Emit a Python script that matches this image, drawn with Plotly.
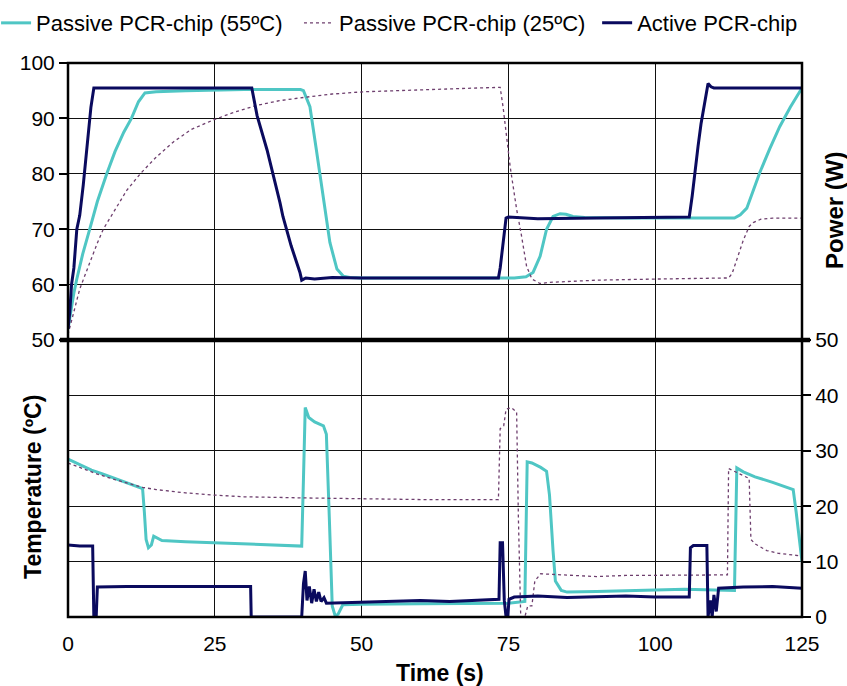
import plotly.graph_objects as go

# ---------------- data ----------------
# Temperature (top panel, left axis, ºC)
t_p55_T = [0, 0.5, 1.0, 1.5, 2.5, 3.7, 5, 6.6, 8, 9.5, 10.8, 12, 13.1, 15, 20, 30, 39.6, 40.1, 41.2, 42.3, 43.5, 44.6, 45.8, 46.9, 48, 50, 60, 70, 76, 78, 79.2, 80.4, 81.5, 82.6, 83.8, 84.8, 86, 88, 95, 105, 113.5, 114.5, 115.6, 116.7, 117.8, 119.5, 121.2, 123, 125]
v_p55_T = [52, 55.5, 58.5, 61, 65.5, 70, 75, 80, 84, 87.5, 90, 93, 94.6, 94.8, 95.0, 95.2, 95.2, 95.0, 92.1, 84.3, 75.4, 67.6, 62.8, 61.5, 61.3, 61.2, 61.2, 61.2, 61.2, 61.4, 62.2, 65.1, 70, 72.3, 72.8, 72.7, 72.3, 72.1, 72.0, 72.0, 72.0, 72.6, 73.8, 77, 80.2, 84.5, 88.5, 92, 95.5]

t_p25_T = [0, 1, 2, 3, 3.7, 5, 6, 8, 10, 12.3, 15, 18, 21, 24.7, 28, 32, 36, 39.5, 45, 50.3, 60, 70, 73.6, 74.1, 75.3, 76.4, 77.2, 78.1, 79, 80.4, 82, 90, 100, 108, 112.5, 113.1, 114, 115, 116, 116.7, 118, 120, 125]
v_p25_T = [51, 55, 59.2, 62, 64, 67.5, 70, 73.5, 77, 80, 83, 85.8, 88, 89.7, 91, 92.3, 93.2, 93.7, 94.4, 94.8, 95.2, 95.5, 95.6, 92, 81.3, 73.6, 69, 63.3, 61, 60.2, 60.4, 60.8, 61, 61.1, 61.2, 62, 65, 68, 70.5, 71.2, 71.8, 72, 72]

t_act_T = [0, 0.3, 0.6, 1.0, 1.5, 2.0, 2.6, 3.0, 3.4, 3.9, 4.4, 5, 10, 20, 31.3, 32.2, 33.9, 36.1, 36.6, 38, 39.5, 39.8, 40.5, 42, 45, 50, 60, 70, 73.3, 73.6, 74.2, 74.6, 75, 80, 90, 100, 105.8, 106.3, 106.8, 107.3, 107.8, 108.3, 108.7, 109.0, 109.5, 110, 115, 120, 125]
v_act_T = [52, 55, 60, 63, 70, 72.5, 78, 82, 87, 92, 95.5, 95.5, 95.5, 95.5, 95.5, 90.5, 84.3, 74.8, 72.3, 67, 62.2, 60.8, 61.2, 61.0, 61.3, 61.2, 61.2, 61.3, 61.2, 63, 69, 72, 72.2, 71.9, 72.0, 72.1, 72.2, 76, 81, 85, 89, 92, 95, 96.3, 95.7, 95.5, 95.5, 95.5, 95.5]

# Power (bottom panel, right axis, W)
t_p55_P = [0, 2, 4, 6, 8, 10, 12.7, 13.0, 13.3, 13.7, 14.2, 14.6, 15.2, 16, 20, 25, 30, 35, 39.8, 40.1, 40.4, 41, 42, 43.5, 44, 44.5, 45, 45.5, 46, 46.8, 50, 60, 70, 75, 77.8, 78.2, 79, 80.5, 81.5, 82, 82.6, 83, 84, 85, 90, 100, 105, 113.5, 113.9, 115, 117, 120, 123.5, 124, 124.5, 125]
v_p55_P = [28.5, 27.5, 26.5, 25.8, 25, 24.2, 23.2, 19, 14, 12.5, 13, 14.6, 14.2, 13.8, 13.6, 13.4, 13.2, 13.0, 12.8, 25, 37.8, 36, 35.2, 34.5, 33, 18, 2, 0.2, 0.5, 2.2, 2.3, 2.4, 2.5, 2.5, 2.8, 28, 27.8, 27, 26.3, 22, 12, 6.5, 4.8, 4.5, 4.6, 4.9, 5, 4.8, 26.9, 26.2, 25.3, 24.3, 23, 19, 14, 10]

t_p25_P = [0, 2, 5, 8, 12.7, 15, 20, 25, 30, 40, 50, 60, 73.3, 73.6, 74.2, 74.6, 75.5, 76.4, 76.7, 77.1, 77.8, 78.3, 79.0, 79.5, 80.5, 85, 90, 95, 100, 105, 112.3, 112.5, 114, 116, 116.3, 117, 119, 121, 125]
v_p25_P = [27.8, 27, 25.8, 24.8, 23.4, 23, 22.4, 22, 21.7, 21.5, 21.3, 21.2, 21.2, 34, 34.5, 37.5, 37.8, 37, 18, 0, 0, 2, 2, 6.5, 7.8, 7.6, 7.3, 7.5, 7.5, 7.6, 7.6, 26.8, 26, 25, 14, 13.2, 12, 11.5, 11]

t_act_P = [0, 2, 4.2, 4.4, 4.8, 5.0, 10, 20, 31.1, 31.2, 39.8, 40.1, 40.4, 40.7, 41.1, 41.5, 41.9, 42.3, 42.7, 43.1, 43.6, 44, 50, 55, 60, 65, 70, 73.4, 73.6, 74, 74.3, 74.6, 74.9, 75.1, 76, 80, 85, 90, 95, 100, 105.8, 106, 106.5, 108.8, 109.0, 109.4, 109.7, 110, 110.4, 110.8, 115, 120, 125]
v_act_P = [13, 12.8, 12.8, 0, 0, 5.4, 5.5, 5.5, 5.5, 0, 0, 6, 8.3, 3, 5.5, 2.5, 5, 2.8, 4.5, 2.8, 3.5, 2.5, 2.7, 2.8, 3, 2.8, 3, 3.2, 13.4, 13.4, 3, 0, 0, 3.2, 3.6, 3.8, 3.5, 3.6, 3.8, 3.6, 3.6, 12.5, 12.9, 12.9, 0, 3, 0, 4, 1, 5.2, 5.4, 5.5, 5.2]

names = ["Passive PCR-chip (55ºC)", "Passive PCR-chip (25ºC)", "Active PCR-chip"]
x_ticks = [0, 25, 50, 75, 100, 125]
temp_ticks = [50, 60, 70, 80, 90, 100]
power_ticks = [0, 10, 20, 30, 40, 50]

# ---------------- styles ----------------
C_CYAN = "#4fc6c4"
C_PURP = "#6e3f6e"
C_NAVY = "#0a0a5e"
FONT = "Liberation Sans, Arial, sans-serif"

fig = go.Figure()

styles = [
    dict(color=C_CYAN, width=3),
    dict(color=C_PURP, width=1.3, dash="3px,3px"),
    dict(color=C_NAVY, width=3),
]
legend_ids = ["legend", "legend2", "legend3"]
temp_data = [(t_p55_T, v_p55_T), (t_p25_T, v_p25_T), (t_act_T, v_act_T)]
power_data = [(t_p55_P, v_p55_P), (t_p25_P, v_p25_P), (t_act_P, v_act_P)]

for i, (tx, vy) in enumerate(temp_data):
    fig.add_trace(go.Scatter(x=tx, y=vy, mode="lines", name=names[i], line=styles[i],
                             legendgroup=str(i), showlegend=True, yaxis="y",
                             legend=legend_ids[i]))
for i, (tx, vy) in enumerate(power_data):
    fig.add_trace(go.Scatter(x=tx, y=vy, mode="lines", name=names[i], line=styles[i],
                             legendgroup=str(i), showlegend=False, yaxis="y2",
                             legend=legend_ids[i]))

grid = dict(showgrid=True, gridcolor="#111", gridwidth=1.3, zeroline=False, automargin=False)


def leg(xc, xref="container"):
    return dict(orientation="h", xref=xref, x=xc, xanchor="left",
                yref="container", y=0.997, yanchor="top",
                font=dict(size=22, family=FONT), bgcolor="rgba(0,0,0,0)",
                itemwidth=30, tracegroupgap=0)


fig.update_layout(
    width=847, height=686,
    margin=dict(l=68, r=45, t=63, b=69, autoexpand=False),
    paper_bgcolor="white", plot_bgcolor="white",
    font=dict(family=FONT, color="black", size=21),
    showlegend=True,
    legend=leg(-0.098, "paper"),
    legend2=leg(0.353),
    legend3=leg(0.705),
    xaxis=dict(range=[0, 125], tickvals=x_ticks, ticks="", anchor="y2",
               showline=False, ticklabelstandoff=12, tickfont=dict(size=21), **grid),
    yaxis=dict(domain=[0.5, 1], range=[50, 100], tickvals=temp_ticks, side="left",
               anchor="x", ticks="outside", ticklen=8, tickwidth=2, tickcolor="black",
               showline=False, tickfont=dict(size=21), **grid),
    yaxis2=dict(domain=[0, 0.5], range=[0, 50], tickvals=power_ticks, side="right",
                anchor="x", ticks="outside", ticklen=8, tickwidth=2, tickcolor="black",
                showline=False, tickfont=dict(size=21), **grid),
)

# frame and middle separator
fig.add_shape(type="rect", xref="paper", yref="paper", x0=0, x1=1, y0=0, y1=1,
              line=dict(color="black", width=2.5), layer="above")
fig.add_shape(type="line", xref="paper", yref="paper", x0=-0.011, x1=1.011, y0=0.5, y1=0.5,
              line=dict(color="black", width=4.5), layer="above")

bold = dict(family=FONT, size=23, color="black")
fig.add_annotation(text="<b>Time (s)</b>", xref="paper", yref="paper", x=0.507, y=-0.101,
                   showarrow=False, font=bold, xanchor="center", yanchor="middle")
fig.add_annotation(text="<b>Temperature (ºC)</b>", xref="paper", yref="paper", x=-0.0477, y=0.2347,
                   showarrow=False, font=bold, textangle=-90, xanchor="center", yanchor="middle")
fig.add_annotation(text="<b>Power (W)</b>", xref="paper", yref="paper", x=1.045, y=0.733,
                   showarrow=False, font=dict(family=FONT, size=24, color="black"),
                   textangle=-90, xanchor="center", yanchor="middle")

fig.write_html("out.html")
